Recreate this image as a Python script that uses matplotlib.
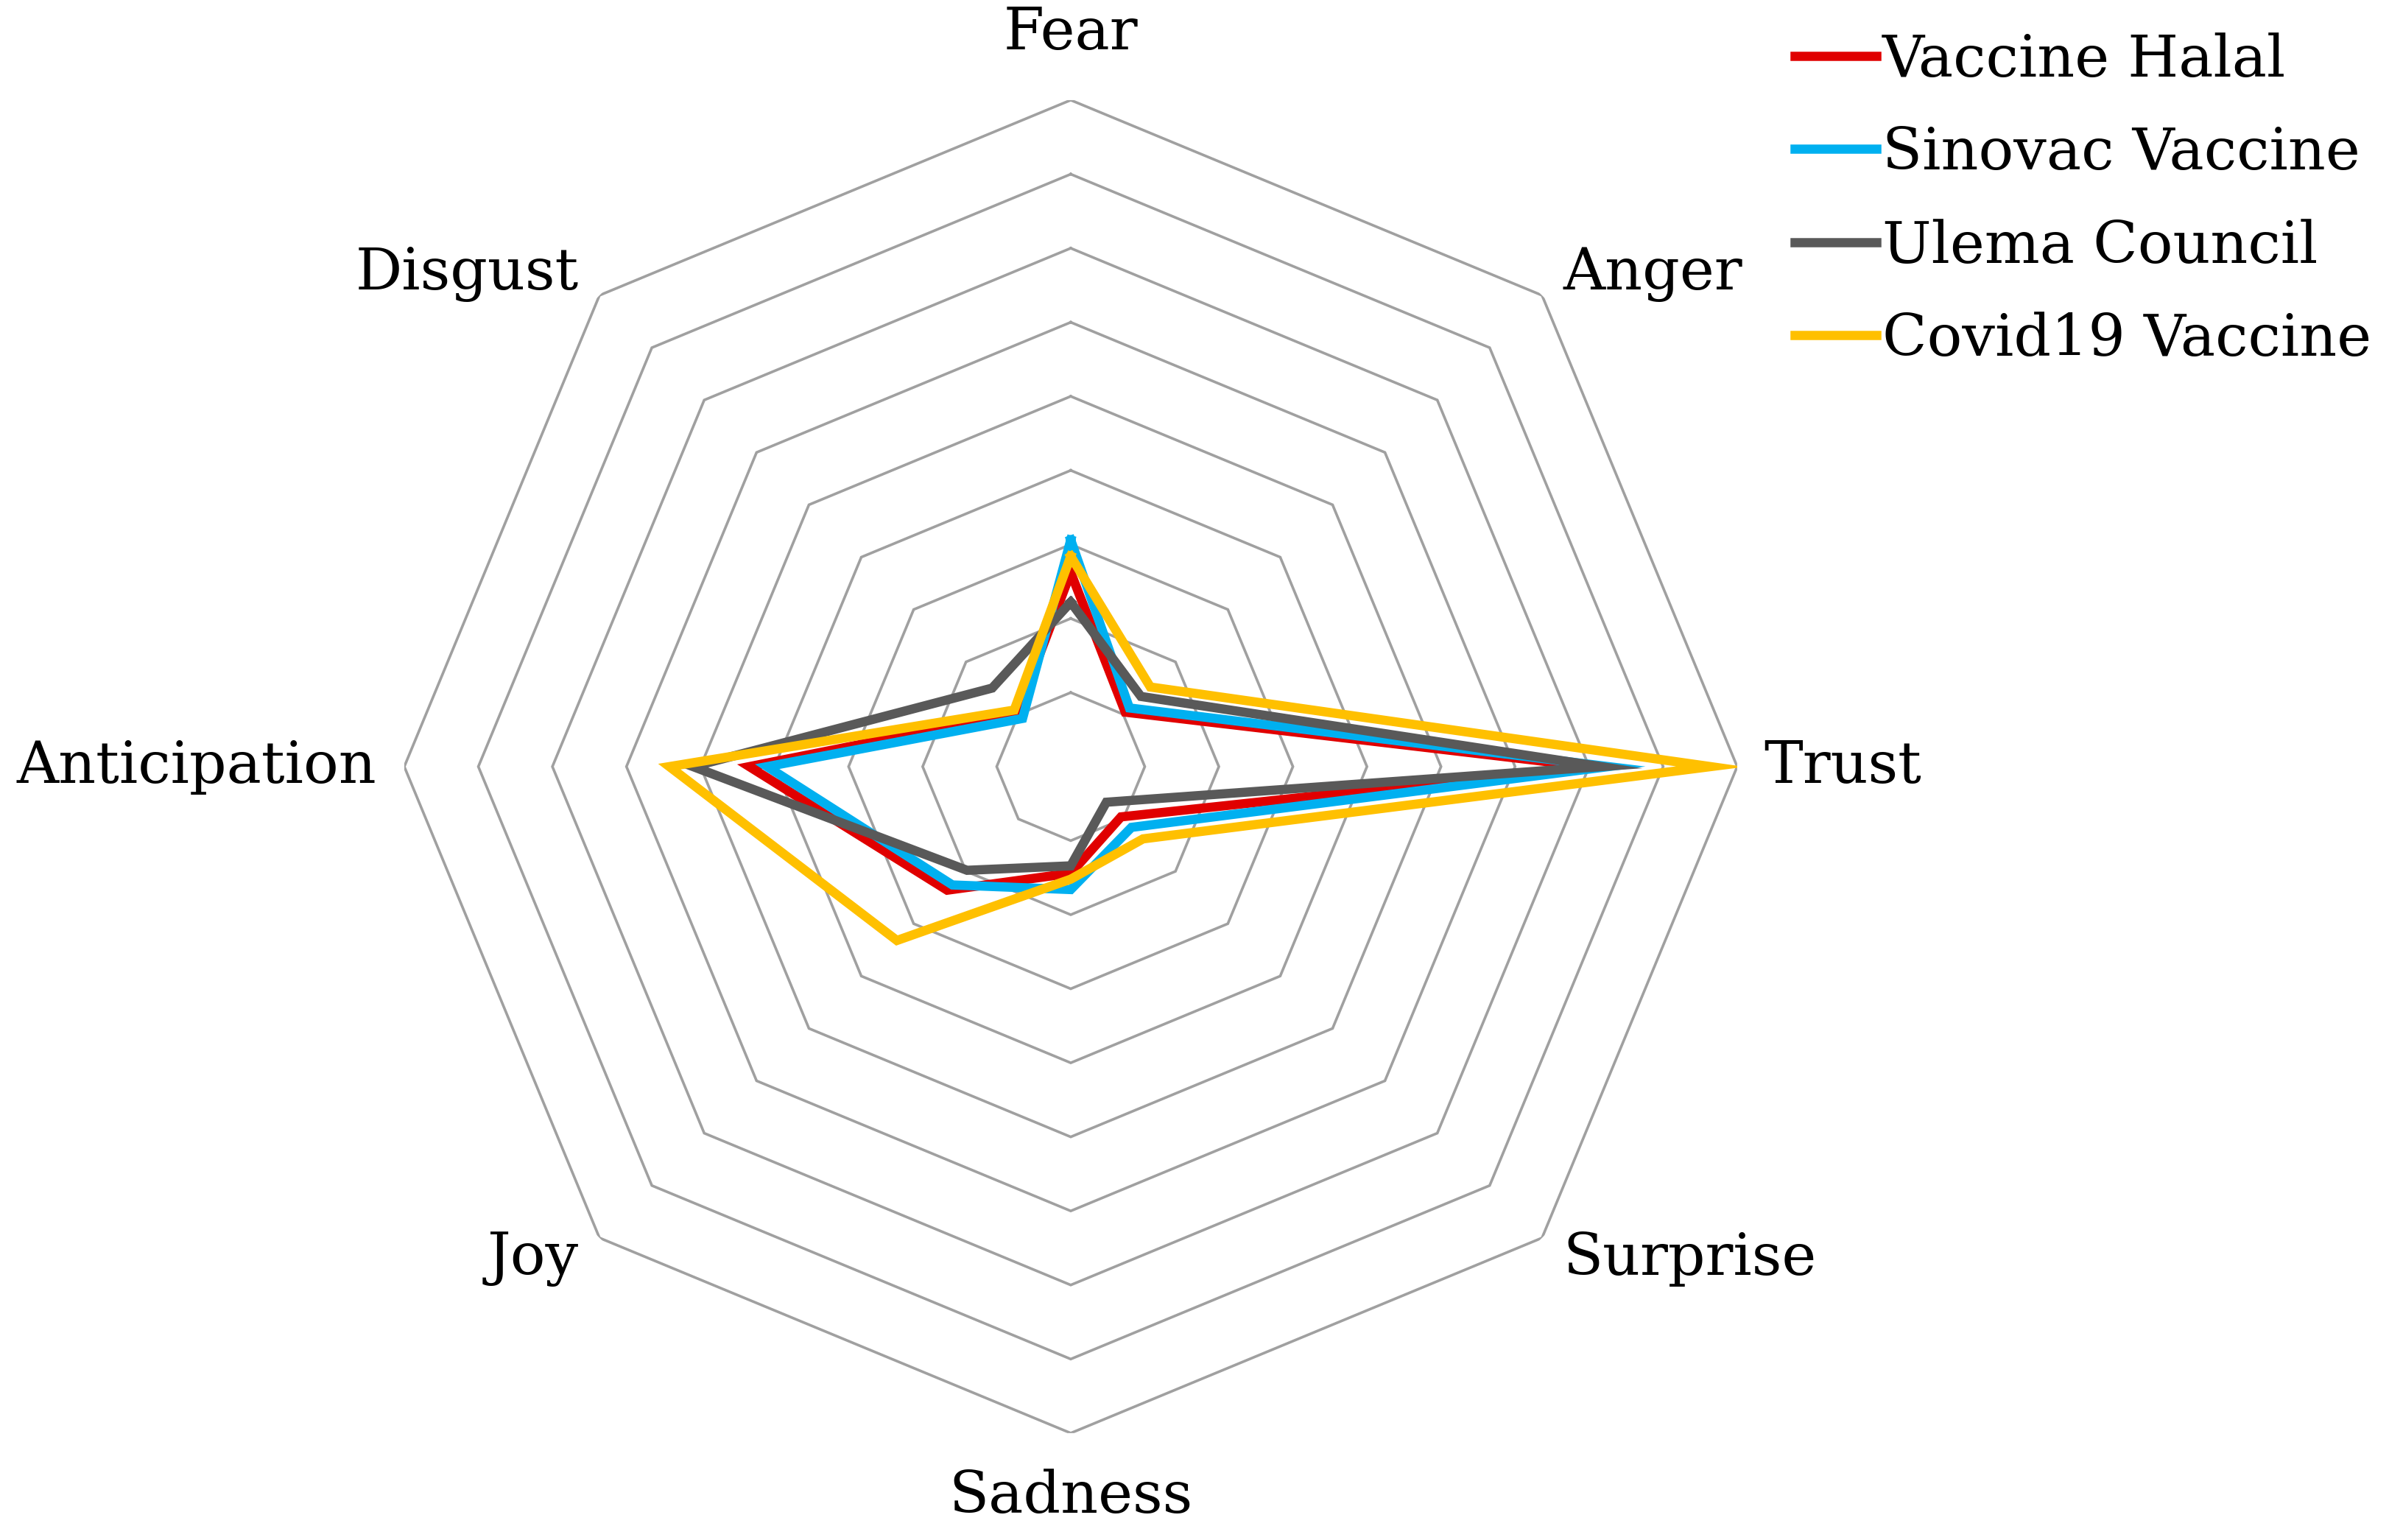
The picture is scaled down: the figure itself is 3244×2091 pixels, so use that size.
import numpy as np
import matplotlib
matplotlib.use("Agg")
import matplotlib.pyplot as plt

# ── Data (% of tweets per emotion) ──────────────────────────────────
emotions = ["Fear", "Anger", "Trust", "Surprise",
            "Sadness", "Joy", "Anticipation", "Disgust"]

vaccine_halal   = [13.1, 5.2, 35.0, 4.8, 7.2, 11.8, 21.7, 5.1]
sinovac_vaccine = [15.3, 5.6, 36.3, 5.8, 8.3, 11.3, 20.5, 4.6]
ulema_council   = [11.1, 6.7, 35.8, 3.4, 6.7, 9.9, 25.5, 7.5]
covid19_vaccine = [14.2, 7.6, 43.2, 6.9, 7.6, 16.6, 27.1, 5.4]

series_names = ["Vaccine Halal", "Sinovac Vaccine", "Ulema Council", "Covid19 Vaccine"]
series_colors = ["#E00000", "#00B0F0", "#595959", "#FFC000"]

ring_levels = [5, 10, 15, 20, 25, 30, 35, 40, 45]

plt.rcParams["font.family"] = ["DejaVu Serif"]

fig = plt.figure(figsize=(32.44, 20.91), dpi=100)
ax = fig.add_axes([0.1692, 0.0694, 0.558, 0.8656], projection="polar")
ax.set_theta_zero_location("N")
ax.set_theta_direction(-1)
ax.set_ylim(0, ring_levels[-1])
ax.axis("off")

n = len(emotions)
angles = np.linspace(0, 2 * np.pi, n, endpoint=False)
closed = np.append(angles, angles[0])

# octagon grid rings
for lvl in ring_levels:
    ax.plot(closed, [lvl] * (n + 1), color="#A0A0A0", lw=2.6, zorder=1,
            solid_joinstyle="miter")

# series
all_series = [vaccine_halal, sinovac_vaccine, ulema_council, covid19_vaccine]
for name, vals, col in zip(series_names, all_series, series_colors):
    v = list(vals) + [vals[0]]
    ax.plot(closed, v, color=col, lw=9, label=name, zorder=3,
            solid_joinstyle="miter")

# category labels
label_r = {"Fear": 49.5, "Sadness": 49.3, "Trust": 46.8, "Anticipation": 46.9}
for ang, lab in zip(angles, emotions):
    deg = np.degrees(ang)
    if lab in ("Fear", "Sadness"):
        ha = "center"
    elif deg < 180:
        ha = "left"
    else:
        ha = "right"
    r = label_r.get(lab, 47.0)
    ax.text(ang, r, lab, ha=ha, va="center", fontsize=57, color="black")

fig.legend(loc="upper left", bbox_to_anchor=(0.7512, 0.979),
           frameon=False, fontsize=57, handlelength=1.4, handletextpad=0.1,
           labelspacing=0.64, borderpad=0, borderaxespad=0)

fig.savefig("out.png", dpi=100, facecolor="white")
